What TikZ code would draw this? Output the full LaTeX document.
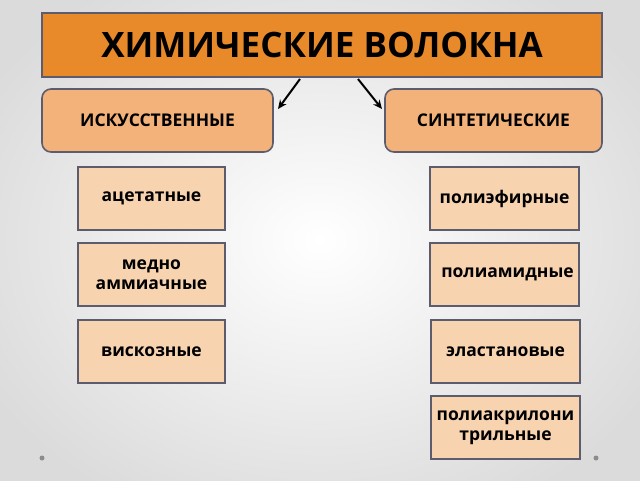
\documentclass[tikz,border=0pt]{standalone}
\usepackage{fontspec}
\setmainfont{Open Sans}
\usetikzlibrary{arrows.meta}
\definecolor{titlefill}{HTML}{E8892A}
\definecolor{catfill}{HTML}{F2B27A}
\definecolor{itemfill}{HTML}{F8D3B0}
\definecolor{edge}{HTML}{5C5C6E}
\begin{document}
\begin{tikzpicture}[x=1pt,y=-1pt,
  titlebox/.style={draw=edge,line width=1.6pt,fill=titlefill,minimum width=560pt,minimum height=64pt,inner sep=0pt,font=\bfseries\fontsize{35}{38}\selectfont},
  catbox/.style={draw=edge,line width=1.6pt,fill=catfill,rounded corners=9pt,minimum height=63pt,inner sep=0pt,font=\bfseries\fontsize{17.5}{20}\selectfont},
  itembox/.style={draw=edge,line width=1.6pt,fill=itemfill,minimum width=147pt,minimum height=63pt,inner sep=0pt,align=center,font=\bfseries\fontsize{17.5}{20}\selectfont},
  arr/.style={-{Stealth[length=9pt,width=8pt]},line width=2pt,black}]
\useasboundingbox (0,0) rectangle (640,480);
\shade[inner color=white,outer color=black!14] (-60,-60) rectangle (700,540);
\node[titlebox] (title) at (322,45) {ХИМИЧЕСКИЕ ВОЛОКНА};
\node[catbox,minimum width=231pt] (art) at (157.5,120.5) {ИСКУССТВЕННЫЕ};
\node[catbox,minimum width=217pt] (syn) at (493.5,120.5) {СИНТЕТИЧЕСКИЕ};
\coordinate (a1) at (300,79);
\coordinate (a2) at (358,79);
\coordinate (b1) at (278,109);
\coordinate (b2) at (382,109);
\draw[arr] (a1) -- (b1);
\draw[arr] (a2) -- (b2);
\node[itembox] (l1) at (151.5,198.5) {ацетатные};
\node[itembox] (l2) at (151.5,274.5) {медно\\аммиачные};
\node[itembox] (l3) at (151.5,351.5) {вискозные};
\node[itembox,minimum width=149pt] (r1) at (504.5,198.5) {полиэфирные};
\node[itembox,minimum width=149pt] (r2) at (504.5,274.5) {\hspace{6pt}полиамидные};
\node[itembox,minimum width=149pt] (r3) at (505.5,351.5) {эластановые};
\node[itembox,minimum width=149pt] (r4) at (505.5,427.5) {полиакрилони\\трильные};
\fill[black!45] (42,458) circle (2.5pt);
\fill[black!45] (596,458) circle (2.5pt);
\end{tikzpicture}
\end{document}
